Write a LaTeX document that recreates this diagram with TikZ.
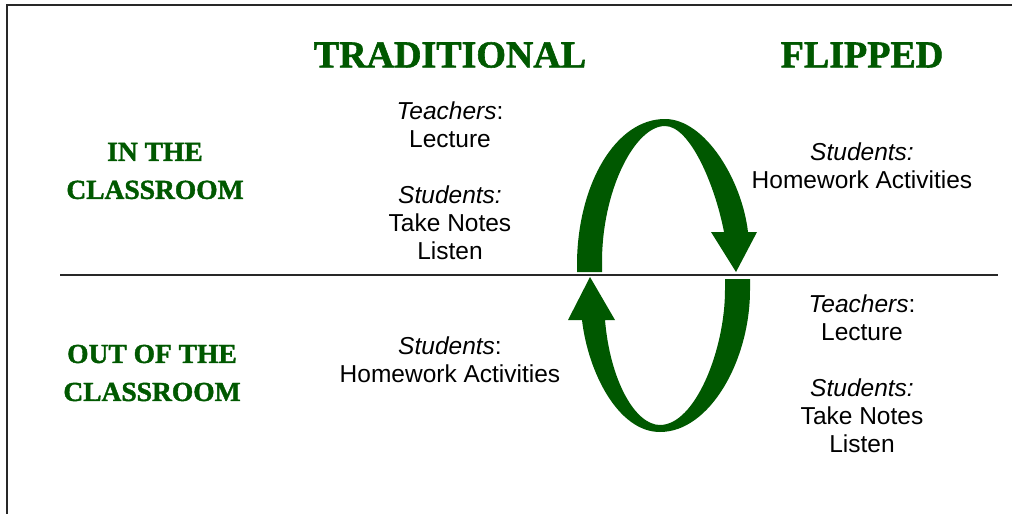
\documentclass[tikz,border=0pt]{standalone}
\usepackage{fontspec}
\setmainfont{Liberation Sans}
\newfontfamily\headfont[FakeBold=1.5]{Liberation Serif Bold}
\definecolor{flipgreen}{RGB}{0,88,0}
\definecolor{rule}{RGB}{40,40,40}
\tikzset{
  head/.style={text=flipgreen,font=\headfont\fontsize{38}{44}\selectfont,inner sep=0pt},
  side/.style={text=flipgreen,font=\headfont\fontsize{27.5}{38}\selectfont,align=center,inner sep=0pt},
  body/.style={font=\fontsize{24.5}{28}\selectfont,align=center,inner sep=0pt},
  loop/.style={fill=flipgreen,draw=none}
}
\begin{document}
\begin{tikzpicture}[x=1pt,y=-1pt]
\useasboundingbox (0,0) rectangle (1021,514);
\draw[rule,line width=2pt] (7,514) -- (7,5) -- (1012,5);
\coordinate (ruleL) at (60,275);
\coordinate (ruleR) at (998,275);
\draw[rule,line width=1.8pt] (ruleL) -- (ruleR);
\node[head] (trad) at (450,55) {TRADITIONAL};
\node[head] (flip) at (862,55) {FLIPPED};
\node[side] (inroom) at (155,171) {IN THE\\CLASSROOM};
\node[side] (outroom) at (152,373) {OUT OF THE\\CLASSROOM};
\node[body] (tradin) at (450,181) {\textit{Teachers}:\\Lecture\\[28pt]\textit{Students:}\\Take Notes\\Listen};
\node[body] (flipin) at (862,166) {\textit{Students:}\\Homework Activities};
\node[body] (tradout) at (450,360) {\textit{Students}:\\Homework Activities};
\node[body] (flipout) at (862,374) {\textit{Teachers}:\\Lecture\\[28pt]\textit{Students:}\\Take Notes\\Listen};
\fill[loop] (577,272) -- (577,262) .. controls (578,185) and (615,119) .. (665,119)
  .. controls (705,119) and (742,180) .. (748,232) -- (757,232) -- (736,272) -- (711,232) -- (724,232)
  .. controls (715,185) and (690,126) .. (665,126) .. controls (635,126) and (602,190) .. (602,262)
  -- (602,272) -- cycle;
\fill[loop] (582,320) .. controls (588,372) and (618,432) .. (660,432)
  .. controls (710,432) and (750,360) .. (750,290) -- (750,279) -- (725,279) -- (725,290)
  .. controls (725,350) and (695,425) .. (660,425) .. controls (635,425) and (610,380) .. (605,320)
  -- (615,320) -- (590,277) -- (568,320) -- cycle;
\end{tikzpicture}
\end{document}
